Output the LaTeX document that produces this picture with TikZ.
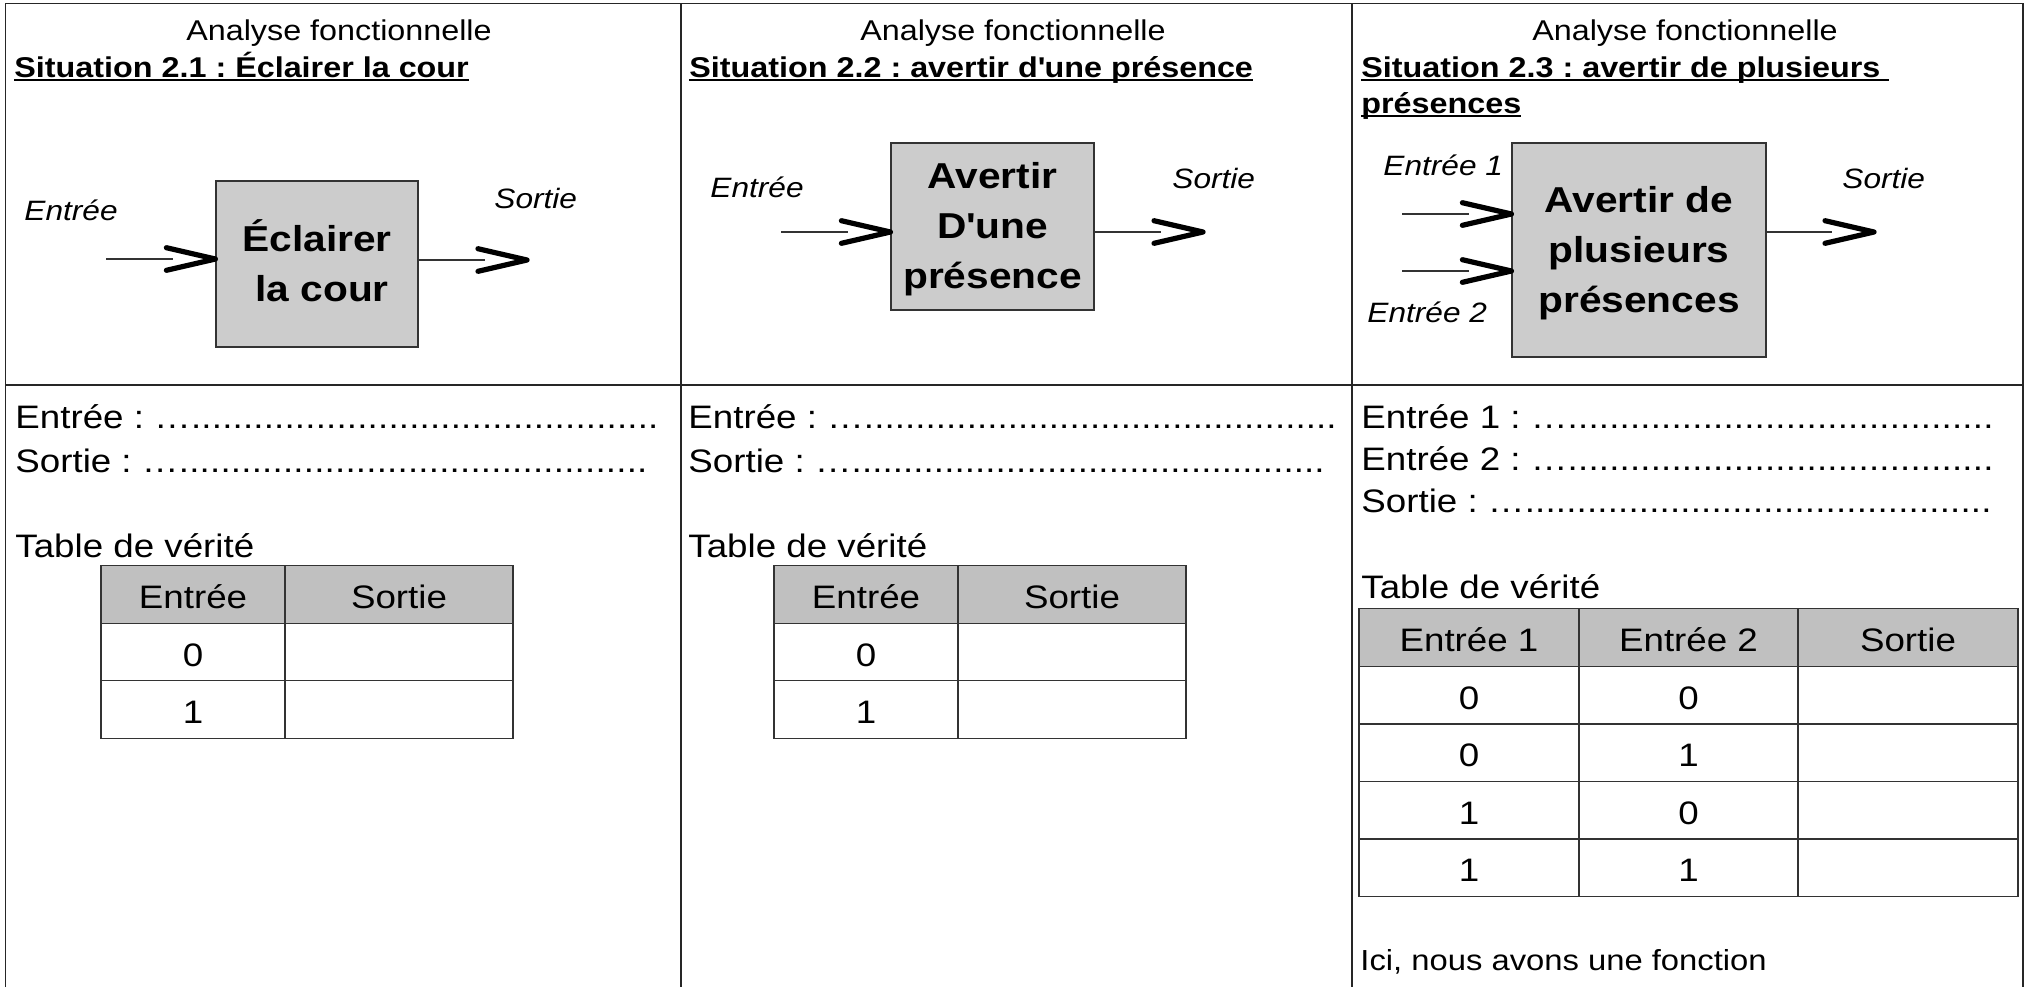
\documentclass[tikz,border=0pt]{standalone}
\usepackage{fontspec}
\setmainfont{Liberation Sans}[FakeStretch=1.13]
\usepackage{tikz}
\usetikzlibrary{positioning}
\definecolor{fondboite}{RGB}{204,204,204}
\definecolor{fondtable}{RGB}{192,192,192}
\newcommand{\ligne}{\rule[-.212em]{0pt}{1.117em}}
\newcommand{\pointilles}[2]{\hbox to #1{#2\xleaders\hbox{.}\hfill}}
\newcommand{\souligne}[1]{\setbox0\hbox{#1}\rlap{\rule[-2.2pt]{\wd0}{1.1pt}}\box0}
\frenchspacing

\begin{document}
\begin{tikzpicture}[x=0.5pt,y=-0.5pt,
	cadre/.style={draw=black!85,line width=0.8pt},
	boite/.style={draw=black!80,line width=0.6pt,fill=fondboite,inner sep=0pt,align=center,font=\bfseries\fontsize{18}{25}\selectfont},
	titre/.style={anchor=base west,inner sep=0pt,font=\bfseries\fontsize{14.3}{17}\selectfont},
	etiq/.style={anchor=base west,inner sep=0pt,font=\itshape\fontsize{14}{17}\selectfont},
	texte/.style={anchor=base west,inner sep=0pt,font=\fontsize{16.25}{19.5}\selectfont},
	fil/.style={draw=black!80,line width=0.6pt,shorten >=21pt},
	cellule/.style={draw=black!80,line width=0.6pt,outer sep=0pt,minimum height=28.75pt,text height=14pt,text depth=0pt,font=\fontsize{16.25}{19.5}\selectfont},
	entete/.style={cellule,fill=fondtable},
	pics/chevron/.style={code={\draw[line width=2.6pt,line cap=round,line join=round] (-49,11.3) -- (0,0) -- (-49,-11.3);}}
	]
	\useasboundingbox (0,0) rectangle (2027,987);
	% Cadre
	\draw[cadre] (5.5,987) -- (5.5,3.5) -- (2023,3.5) -- (2023,987);
	\foreach \x in {681,1352}
	\draw[cadre] (\x,3.5) -- (\x,987);
	\draw[cadre] (5.5,385) -- (2023,385);
	% Titres
	\foreach \x [count=\i] in {339,1013,1685}
	\node[anchor=base,inner sep=0pt,font=\fontsize{14.3}{17}\selectfont] (analyse\i) at (\x,40) {Analyse fonctionnelle};
	\node[titre] (sit1) at (14,77) {\souligne{Situation 2.1 : Éclairer la cour}};
	\node[titre] (sit2) at (689,77) {\souligne{Situation 2.2 : avertir d\textquotesingle une présence}};
	\node[titre] (sit3) at (1361,77) {\souligne{Situation 2.3 : avertir de plusieurs\ }};
	\node[titre] (sit3b) at (1361,113) {\souligne{présences}};
	% Boites
	\node[boite,minimum width=101pt,minimum height=83pt] (b1) at (317,264) {\ligne Éclairer\\\ligne\hspace*{.28em}la cour};
	\node[boite,minimum width=101.5pt,minimum height=83.5pt] (b2) at (992.5,226.5) {\ligne Avertir\\\ligne D\textquotesingle une\\\ligne présence};
	\node[boite,minimum width=127pt,minimum height=107pt] (b3) at (1639,250) {\ligne Avertir de\\\ligne plusieurs\\\ligne présences};
	% Entrees et sorties
	\node[etiq] (le1) at (24,220) {Entrée};
	\node[etiq] (ls1) at (494,208) {Sortie};
	\node[etiq] (le2) at (710,197) {Entrée};
	\node[etiq] (ls2) at (1172,188) {Sortie};
	\node[etiq] (le3a) at (1383,175) {Entrée 1};
	\node[etiq] (le3b) at (1367,322) {Entrée 2};
	\node[etiq] (ls3) at (1842,188) {Sortie};
	\coordinate (e1) at (106,259);
	\coordinate (s1) at (527,260);
	\coordinate (e2) at (781,232);
	\coordinate (s2) at (1203,232);
	\coordinate (e3a) at (1402,214);
	\coordinate (e3b) at (1402,271);
	\coordinate (s3) at (1874,232);
	\draw[fil] (e1) -- (e1 -| b1.west);
	\pic at (e1 -| b1.west) {chevron};
	\draw[fil] (s1 -| b1.east) -- (s1);
	\pic at (s1) {chevron};
	\draw[fil] (e2) -- (e2 -| b2.west);
	\pic at (e2 -| b2.west) {chevron};
	\draw[fil] (s2 -| b2.east) -- (s2);
	\pic at (s2) {chevron};
	\draw[fil] (e3a) -- (e3a -| b3.west);
	\pic at (e3a -| b3.west) {chevron};
	\draw[fil] (e3b) -- (e3b -| b3.west);
	\pic at (e3b -| b3.west) {chevron};
	\draw[fil] (s3 -| b3.east) -- (s3);
	\pic at (s3) {chevron};
	% Reponses
	\node[texte] (en1) at (15,428) {\pointilles{321.5pt}{Entrée : …}};
	\node[texte] (so1) at (15,472) {\pointilles{316pt}{Sortie : …}};
	\node[texte] (tv1) at (15,557) {Table de vérité};
	\node[texte] (en2) at (688,428) {\pointilles{324pt}{Entrée : …}};
	\node[texte] (so2) at (688,472) {\pointilles{318pt}{Sortie : …}};
	\node[texte] (tv2) at (688,557) {Table de vérité};
	\node[texte] (en3a) at (1361,428) {\pointilles{316pt}{Entrée 1 : …}};
	\node[texte] (en3b) at (1361,470) {\pointilles{316pt}{Entrée 2 : …}};
	\node[texte] (so3) at (1361,512) {\pointilles{315pt}{Sortie : …}};
	\node[texte] (tv3) at (1361,598) {Table de vérité};
	\node[texte,font=\fontsize{14.5}{17.5}\selectfont] (ici) at (1360,970) {Ici, nous avons une fonction};
	% Tables de verite
	\node[entete,minimum width=92pt] (t1h1) at (193,594.5) {Entrée};
	\node[entete,minimum width=114pt,right=0pt of t1h1] (t1h2) {Sortie};
	\foreach \v [count=\i] in {0,1}{
		\node[cellule,minimum width=92pt] (t1a\i) at (193,594.5+57.5*\i) {\v};
		\node[cellule,minimum width=114pt,right=0pt of t1a\i] (t1b\i) {};
	}
	\node[entete,minimum width=92pt] (t2h1) at (866,594.5) {Entrée};
	\node[entete,minimum width=114pt,right=0pt of t2h1] (t2h2) {Sortie};
	\foreach \v [count=\i] in {0,1}{
		\node[cellule,minimum width=92pt] (t2a\i) at (866,594.5+57.5*\i) {\v};
		\node[cellule,minimum width=114pt,right=0pt of t2a\i] (t2b\i) {};
	}
	\node[entete,minimum width=110pt] (t3h1) at (1469,637.5) {Entrée 1};
	\node[entete,minimum width=109.5pt,right=0pt of t3h1] (t3h2) {Entrée 2};
	\node[entete,minimum width=110pt,right=0pt of t3h2] (t3h3) {Sortie};
	\foreach \a/\b [count=\i] in {0/0,0/1,1/0,1/1}{
		\node[cellule,minimum width=110pt] (t3a\i) at (1469,637.5+57.6*\i) {\a};
		\node[cellule,minimum width=109.5pt,right=0pt of t3a\i] (t3b\i) {\b};
		\node[cellule,minimum width=110pt,right=0pt of t3b\i] (t3c\i) {};
	}
\end{tikzpicture}
\end{document}
